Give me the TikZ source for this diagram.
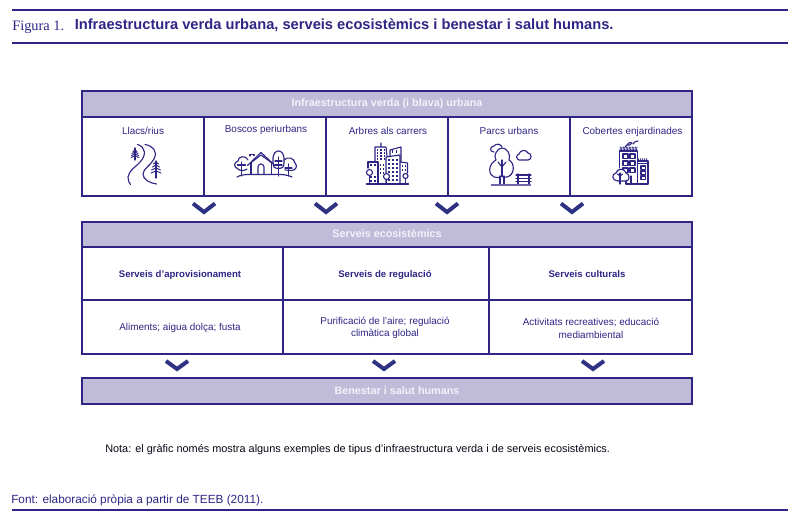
\documentclass[tikz,border=0pt]{standalone}
\usepackage{fontspec}
\setmainfont{Liberation Sans}
\newfontfamily\serifa{Liberation Serif}
\usetikzlibrary{positioning}
\definecolor{ink}{HTML}{2E2585}
\definecolor{chev}{HTML}{2F3183}
\definecolor{head}{HTML}{BFBBD9}
\definecolor{headtxt}{HTML}{F3F2F8}
\tikzset{
  x=0.75pt,y=-0.75pt,
  rulex/.style={draw=ink,line width=1.4pt},
  cellbox/.style={draw=ink,line width=1.5pt,fill=white,inner sep=0pt,outer sep=0pt},
  headbox/.style={draw=ink,line width=1.5pt,fill=head,inner sep=0pt,outer sep=0pt,text=headtxt,font=\fontsize{8.1}{9}\selectfont\bfseries},
  celltxt/.style={text=ink,align=center,inner sep=0pt,anchor=base,font=\fontsize{7.45}{9.3}\selectfont},
  boldtxt/.style={text=ink,align=center,inner sep=0pt,anchor=base,font=\fontsize{7.2}{10}\selectfont\bfseries},
  chevron/.style={draw=chev,line width=3pt,line cap=butt,line join=miter},
  ico/.style={draw=ink,line width=0.85pt,line cap=round,line join=round,fill=none},
  icot/.style={draw=ink,line width=0.5pt,line cap=round,line join=round},
}
\begin{document}
\begin{tikzpicture}
\useasboundingbox (0,0) rectangle (800,520);
% top and bottom rules
\coordinate (r1a) at (12,10); \coordinate (r1b) at (788,10);
\coordinate (r2a) at (12,43); \coordinate (r2b) at (788,43);
\coordinate (r3a) at (12,510); \coordinate (r3b) at (788,510);
\draw[rulex] (r1a)--(r1b); \draw[rulex] (r2a)--(r2b); \draw[rulex] (r3a)--(r3b);
\node[anchor=base west,inner sep=0pt,text=ink,font=\fontsize{10.8}{12}\serifa] (figlab) at (12,31) {Figura 1.};
\node[anchor=base west,inner sep=0pt,text=ink,font=\fontsize{11}{12}\selectfont\bfseries] (title) at (74.5,30) {Infraestructura verda urbana, serveis ecosistèmics i benestar i salut humans.};
% first block
\node[headbox,minimum width=457.5pt,minimum height=19.5pt] (h1) at (387,104) {Infraestructura verda (i blava) urbana};
\foreach \n/\a/\b in {c1/82/204,c2/204/326,c3/326/448,c4/448/570,c5/570/692}{
  \path[cellbox,draw] (\a,117) rectangle (\b,196);
}
\node[celltxt] (t1) at (143,135) {Llacs/rius};
\node[celltxt] (t2) at (266,133) {Boscos periurbans};
\node[celltxt] (t3) at (388,135) {Arbres als carrers};
\node[celltxt] (t4) at (509,135) {Parcs urbans};
\node[celltxt] (t5) at (632.5,135) {Cobertes enjardinades};
% chevrons
\foreach \x in {204,326,447,572}{\draw[chevron] (\x-11,203.5)--(\x,212)--(\x+11,203.5);}
% second block
\node[headbox,minimum width=457.5pt,minimum height=18.75pt] (h2) at (387,234.5) {\raisebox{.75pt}{Serveis ecosistèmics}};
\foreach \a/\b in {82/283,283/489,489/692}{
  \path[cellbox,draw] (\a,247) rectangle (\b,300);
  \path[cellbox,draw] (\a,300) rectangle (\b,354);
}
\node[boldtxt] (s1) at (180,278) {Serveis d’aprovisionament};
\node[boldtxt] (s2) at (385,278) {Serveis de regulació};
\node[boldtxt] (s3) at (587,278) {Serveis culturals};
\node[celltxt] (d1) at (180,331) {Aliments; aigua dolça; fusta};
\node[celltxt,anchor=center] (d2) at (385,328) {Purificació de l’aire; regulació\\climàtica global};
\node[celltxt,anchor=center] (d3) at (591,328.5) {Activitats recreatives; educació\\mediambiental};
\foreach \x in {177,384,593}{\draw[chevron] (\x-11,361)--(\x,369)--(\x+11,361);}
\node[headbox,minimum width=457.5pt,minimum height=19.5pt] (h3) at (387,391) {\hspace*{15pt}Benestar i salut humans};
% notes
\node[anchor=base west,inner sep=0pt,font=\fontsize{8.18}{10}\selectfont,text=black!85!ink] (nota) at (105,452) {Nota: el gràfic només mostra alguns exemples de tipus d’infraestructura verda i de serveis ecosistèmics.};
\node[anchor=base west,inner sep=0pt,font=\fontsize{8.85}{10}\selectfont,text=ink] (font) at (11,503.5) {Font: elaboració pròpia a partir de TEEB (2011).};
% --- icon: rivers
\draw[ico] (137.5,144.5) .. controls (146,147) and (146,155) .. (141,161) .. controls (136,167) and (129,170) .. (128,177) .. controls (128,180) and (129,183) .. (130.5,184.5);
\draw[ico] (145,144.5) .. controls (153,146) and (158,151) .. (154,159) .. controls (151,165) and (143,169) .. (143,174) .. controls (143,180) and (150,183) .. (156.5,184);
\draw[icot,line width=1pt] (135,148)--(135,160);
\foreach \y/\w in {150/2,152/3,154/3.5,156/4}{\draw[icot,line width=.7pt] (135-\w,\y+1.5)--(135,\y)--(135+\w,\y+1.5);}
\draw[icot,line width=.8pt] (156,161)--(156,178);
\foreach \y/\w in {162/2.5,165/3.5,168/4.5,171/5}{\draw[icot,line width=.7pt] (156-\w,\y+2)--(156,\y)--(156+\w,\y+2);}
% --- icon: house and trees
\draw[ico] (247.5,165.5)--(261,152.5)--(275,165.5);
\draw[ico] (250.5,163)--(261,155)--(272,163);
\draw[ico] (251,163)--(251,174.5); \draw[ico] (271.5,163)--(271.5,174.5);
\draw[ico] (250,156)--(250,154.5)--(254,154.5)--(254,155.5);
\draw[ico] (258,174.5)--(258,167) arc[start angle=180,end angle=360,radius=3]--(264,174.5);
\draw[ico] (247,169) .. controls (245,171) and (240,171) .. (238,169) .. controls (233,167) and (234,162) .. (238,161) .. controls (238,156) and (246,155) .. (248,160);
\draw[ico] (241.5,162)--(241.5,176); \draw[ico] (237.5,165)--(245.5,165);
\draw[ico] (278.5,151) .. controls (272,151) and (272,163) .. (274,167) .. controls (276,169) and (281,169) .. (283,167) .. controls (285,163) and (285,151) .. (278.5,151);
\draw[ico] (278.5,157)--(278.5,176); \draw[ico] (275,161)--(282,161); \draw[ico] (275,165)--(282,165);
\draw[ico] (284,160) .. controls (288,156) and (294,158) .. (295,163) .. controls (298,166) and (296,170) .. (292,170.5)--(285,170);
\draw[ico] (288.5,164)--(288.5,176); \draw[ico] (285,168)--(292,168);
\draw[ico] (237,177) .. controls (240,175) and (245,174.5) .. (250,174.5)--(274,174.5) .. controls (282,174) and (288,175) .. (292,177);
% --- icon: city
\draw[ico,line width=.9pt] (366.5,184)--(408.5,184);
\draw[ico] (375,161)--(375,147)--(381,147)--(381,143)--(381,147)--(386,147)--(387,156);
\draw[ico] (390,156)--(390,150)--(401,147)--(401,162);
\draw[ico] (386,184)--(386,157)--(400,155)--(400,184);
\draw[ico] (368,168)--(368,162)--(378,162)--(378,184);
\draw[ico] (400,162)--(407.5,163)--(407.5,173);
\foreach \x in {377.5,381,384.5}{\foreach \y in {150,153,156,159}{\fill[ink] (\x-.9,\y-.8) rectangle (\x+.9,\y+.8);}}
\foreach \x in {392.5,396.5}{\fill[ink] (\x-.9,150.5) rectangle (\x+.9,153.5);}
\foreach \x in {389,393,397}{\foreach \y in {160,164,168,172,176,180}{\fill[ink] (\x-.9,\y-.9) rectangle (\x+.9,\y+.9);}}
\foreach \x in {371,375}{\foreach \y in {165,177,181}{\fill[ink] (\x-.8,\y-.9) rectangle (\x+.8,\y+.9);}}
\foreach \x in {380.5,383.5}{\foreach \y in {165,169,173}{\fill[ink] (\x-.7,\y-.9) rectangle (\x+.7,\y+.9);}}
\foreach \x in {402.5,405.5}{\foreach \y in {166,170}{\fill[ink] (\x-.7,\y-.9) rectangle (\x+.7,\y+.9);}}
\draw[ico,fill=white] (369.5,172.5) circle (3); \draw[ico] (369.5,175.5)--(369.5,184);
\draw[ico,fill=white] (386.5,176.5) circle (3); \draw[ico] (386.5,179.5)--(386.5,184);
\draw[ico,fill=white] (405.5,176) circle (2.5); \draw[ico] (405.5,178.5)--(405.5,184);
% --- icon: park
\draw[ico] (494,152) .. controls (489,152) and (490,146) .. (494,146) .. controls (496,143) and (501,144) .. (502,147);
\draw[ico] (496,160) .. controls (493,156) and (497,148) .. (502,148) .. controls (507,148) and (511,154) .. (509,160) .. controls (515,163) and (515,175) .. (507,177) .. controls (504,178) and (502,177) .. (501.5,176) .. controls (500,178) and (496,178) .. (494,177) .. controls (488,175) and (488,164) .. (496,160);
\draw[ico] (500,176)--(500,184); \draw[ico] (504,176)--(504,184);
\draw[ico] (502,176)--(502,160); \draw[ico] (502,167)--(498,162); \draw[ico] (502,167)--(506,162);
\draw[ico] (519,160) .. controls (516,159) and (516,155) .. (519,154) .. controls (520,150) and (526,149) .. (528,153) .. controls (532,153) and (532,160) .. (528,160)--(519,160);
\draw[ico] (516,175)--(531,175); \draw[ico] (516,178.5)--(531,178.5); \draw[ico] (516,181.5)--(531,181.5);
\draw[ico] (518,174)--(518,184); \draw[ico] (529,174)--(529,184);
\draw[draw=ink!70,line width=.9pt] (490.5,185)--(531,185);
% --- icon: green roof
\draw[ico] (619.5,168)--(619.5,151)--(637.5,151)--(637.5,184)--(626,184);
\draw[ico] (638,161)--(648,161)--(648,184)--(638,184);
\draw[ico] (638,163.5)--(648,163.5);
\foreach \x in {623,630}{\foreach \y in {154,161,168}{\draw[ico] (\x,\y) rectangle (\x+5,\y+4.5);}}
\foreach \y in {166,171,176}{\draw[ico] (641,\y) rectangle (645.5,\y+3.5);}
\draw[ico] (631,176)--(631,184); \draw[ico] (626,176)--(626,184);
\foreach \x in {620,621.5,...,637}{\draw[icot,line width=.6pt] (\x,150.5)--(\x+.4,147);}
\foreach \x in {638.5,640.5,...,648}{\draw[icot,line width=.6pt] (\x,160.5)--(\x+.3,158.5);}
\draw[ico] (627,145) .. controls (629,142) and (631,142) .. (632,143) .. controls (631,145) and (629,145.5) .. (627,145)--(625,147);
\draw[ico] (633,144) .. controls (634,142) and (636,141) .. (638,141);
\draw[ico,fill=white] (618,181) .. controls (612,181) and (611,174) .. (616,173) .. controls (617,168) and (625,168) .. (626,173) .. controls (630,174) and (630,181) .. (626,181)--(618,181);
\draw[ico] (620,173)--(620,184); \draw[ico] (620,176)--(617.5,174); \draw[ico] (620,176)--(622.5,174);
\end{tikzpicture}
\end{document}
